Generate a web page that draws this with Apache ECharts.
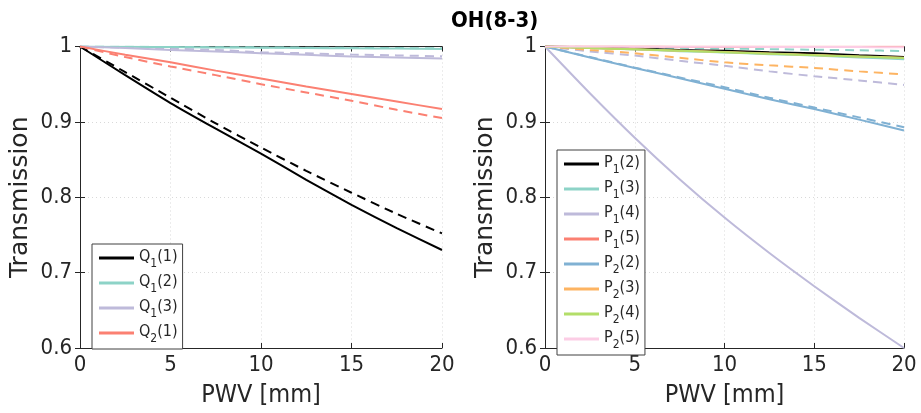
<!DOCTYPE html>
<html><head><meta charset="utf-8">
<script src="https://cdn.jsdelivr.net/npm/echarts@6/dist/echarts.min.js"></script>
<style>html,body{margin:0;padding:0;background:#fff}#c{width:921px;height:413px}</style>
</head><body><div id="c"></div>
<script>
// ---- data ----
const pwv = [0, 2.5, 5, 7.5, 10, 12.5, 15, 17.5, 20];
const xTicks = [0, 5, 10, 15, 20];
const yTicks = [0.6, 0.7, 0.8, 0.9, 1];

// left panel (Q branches): solid and dashed
const Q1_1 = [1, 0.962, 0.925, 0.891, 0.858, 0.823, 0.790, 0.759, 0.730];
const Q1_1d = [1, 0.966, 0.932, 0.898, 0.866, 0.835, 0.806, 0.778, 0.752];
const Q1_2 = [1, 0.9996, 0.9992, 0.9988, 0.9984, 0.998, 0.9976, 0.9972, 0.9968];
const Q1_2d = [1, 0.9997, 0.9994, 0.9991, 0.9988, 0.9985, 0.9982, 0.9979, 0.9976];
const Q1_3 = [1, 0.998, 0.9955, 0.9935, 0.991, 0.989, 0.9866, 0.9853, 0.984];
const Q1_3d = [1, 0.9984, 0.997, 0.9955, 0.9924, 0.991, 0.9894, 0.9882, 0.987];
const Q2_1 = [1, 0.989, 0.979, 0.968, 0.9575, 0.947, 0.937, 0.927, 0.917];
const Q2_1d = [1, 0.986, 0.9736, 0.962, 0.950, 0.939, 0.928, 0.916, 0.905];

// right panel (P branches)
const P1_2 = [1, 0.9985, 0.997, 0.9955, 0.9942, 0.9925, 0.991, 0.9885, 0.986];
const P1_3 = [1, 0.998, 0.996, 0.9938, 0.992, 0.9898, 0.988, 0.9855, 0.983];
const P1_3d = [1, 0.9994, 0.9988, 0.998, 0.9972, 0.9965, 0.9957, 0.995, 0.994];
const P1_4 = [1, 0.938, 0.879, 0.824, 0.773, 0.726, 0.682, 0.640, 0.600];
const P1_4d = [1, 0.9935, 0.988, 0.981, 0.9745, 0.967, 0.9605, 0.955, 0.949];
const P1_5 = [1, 0.9999, 0.9999, 0.9998, 0.9998, 0.9997, 0.9997, 0.9996, 0.9996];
const P2_2 = [1, 0.9855, 0.9715, 0.958, 0.944, 0.930, 0.917, 0.903, 0.8886];
const P2_2d = [1, 0.986, 0.972, 0.959, 0.946, 0.932, 0.919, 0.906, 0.893];
const P2_3 = [1, 0.998, 0.9963, 0.9945, 0.9926, 0.9907, 0.9888, 0.9868, 0.985];
const P2_3d = [1, 0.9955, 0.991, 0.985, 0.979, 0.975, 0.9715, 0.967, 0.963];
const P2_4 = [1, 0.998, 0.9962, 0.9943, 0.9924, 0.9905, 0.9885, 0.9866, 0.9846];
const P2_5 = [1, 0.9999, 0.9998, 0.9997, 0.9996, 0.9995, 0.9993, 0.9992, 0.999];

const colors = {black:'#000000', teal:'#8dd3c7', purple:'#bebada', red:'#fb8072',
  blue:'#80b1d3', orange:'#fdb462', green:'#b3de69', pink:'#fccde5'};

const FONT = 'DejaVu Sans Condensed';
const FONT_V = 'DejaVu Sans';
const TXT = '#262626';

function pts(arr){ return pwv.map((x,i)=>[x, arr[i]]); }
function ser(name, arr, color, grid, dashed){
  return {
    name: name, type: 'line', xAxisIndex: grid*2, yAxisIndex: grid*2,
    data: pts(arr), showSymbol: false, symbol: 'none', smooth: 0.2,
    lineStyle: {color: color, width: 2, type: dashed ? [9,6] : 'solid'},
    itemStyle: {color: color}, silent: true, animation: false,
    z: dashed ? 2 : 3
  };
}

function xAxes(grid){
  return [
    {gridIndex: grid, type:'value', min:0, max:20, interval:5, position:'bottom',
     name:'PWV [mm]', nameLocation:'middle', nameGap:35,
     nameTextStyle:{fontFamily:FONT, fontSize:25, color:TXT},
     axisLine:{show:true, lineStyle:{color:TXT, width:1}},
     axisTick:{show:true, inside:true, length:5, lineStyle:{color:TXT}},
     axisLabel:{fontFamily:FONT, fontSize:22, color:TXT, margin:6},
     splitLine:{show:true, lineStyle:{color:'#d9d9d9', type:[1,3], width:1}}},
    {gridIndex: grid, type:'value', min:0, max:20, interval:5, position:'top',
     axisLine:{show:true, lineStyle:{color:TXT, width:1}},
     axisTick:{show:true, inside:true, length:5, lineStyle:{color:TXT}},
     axisLabel:{show:false}, splitLine:{show:false}}
  ];
}
function yAxes(grid){
  return [
    {gridIndex: grid, type:'value', min:0.6, max:1, interval:0.1, position:'left',
     name:'Transmission', nameLocation:'middle', nameGap:47,
     nameTextStyle:{fontFamily:FONT_V, fontSize:25, color:TXT},
     axisLine:{show:true, lineStyle:{color:TXT, width:1}},
     axisTick:{show:true, inside:true, length:5, lineStyle:{color:TXT}},
     axisLabel:{fontFamily:FONT, fontSize:22, color:TXT, margin:8,
       formatter: v => (Math.abs(v-1)<1e-9 ? '1' : v.toFixed(1))},
     splitLine:{show:true, lineStyle:{color:'#d9d9d9', type:[1,3], width:1}}},
    {gridIndex: grid, type:'value', min:0.6, max:1, interval:0.1, position:'right',
     axisLine:{show:true, lineStyle:{color:TXT, width:1}},
     axisTick:{show:true, inside:true, length:5, lineStyle:{color:TXT}},
     axisLabel:{show:false}, splitLine:{show:false}}
  ];
}

function fmt(name){
  const m = name.match(/^([A-Z])(\d)(\(.*\))$/);
  return '{b|' + m[1] + '}{s|' + m[2] + '}{b|' + m[3] + '}';
}
const rich = {
  b:{fontFamily:FONT, fontSize:16, color:TXT, lineHeight:18, verticalAlign:'top'},
  s:{fontFamily:FONT, fontSize:12, color:TXT, lineHeight:18, padding:[9,0,0,0], verticalAlign:'top'}
};
function legend(names, left, top){
  return {
    data: names, orient:'vertical', left:left, top:top,
    backgroundColor:'#fff', borderColor:'#404040', borderWidth:1, borderRadius:0,
    padding:[5,5,4,7], itemGap:4, itemWidth:35, itemHeight:3, icon:'rect',
    selectedMode:false, formatter: fmt,
    textStyle:{fontFamily:FONT, fontSize:16, color:TXT, rich:rich}
  };
}

const leftNames = ['Q1(1)', 'Q1(2)', 'Q1(3)', 'Q2(1)'];
const rightNames = ['P1(2)', 'P1(3)', 'P1(4)', 'P1(5)', 'P2(2)', 'P2(3)', 'P2(4)', 'P2(5)'];

const series = [
  ser('Q1(1) d', Q1_1d, colors.black, 0, true),
  ser('Q1(2) d', Q1_2d, colors.teal, 0, true),
  ser('Q1(3) d', Q1_3d, colors.purple, 0, true),
  ser('Q2(1) d', Q2_1d, colors.red, 0, true),
  ser(leftNames[0], Q1_1, colors.black, 0, false),
  ser(leftNames[1], Q1_2, colors.teal, 0, false),
  ser(leftNames[2], Q1_3, colors.purple, 0, false),
  ser(leftNames[3], Q2_1, colors.red, 0, false),

  ser('P1(3) d', P1_3d, colors.teal, 1, true),
  ser('P1(4) d', P1_4d, colors.purple, 1, true),
  ser('P2(2) d', P2_2d, colors.blue, 1, true),
  ser('P2(3) d', P2_3d, colors.orange, 1, true),
  ser(rightNames[0], P1_2, colors.black, 1, false),
  ser(rightNames[1], P1_3, colors.teal, 1, false),
  ser(rightNames[2], P1_4, colors.purple, 1, false),
  ser(rightNames[3], P1_5, colors.red, 1, false),
  ser(rightNames[4], P2_2, colors.blue, 1, false),
  ser(rightNames[5], P2_3, colors.orange, 1, false),
  ser(rightNames[6], P2_4, colors.green, 1, false),
  ser(rightNames[7], P2_5, colors.pink, 1, false)
];

const chart = echarts.init(document.getElementById('c'), null, {renderer:'canvas'});
chart.setOption({
  animation:false,
  backgroundColor:'#fff',
  title:{text:'OH(8-3)', left:446, top:5,
    textStyle:{fontFamily:FONT, fontSize:22, fontWeight:'bold', color:'#000'}},
  grid:[
    {left:80, right:479, top:46.5, bottom:61},
    {left:545, right:17, top:46.5, bottom:61}
  ],
  xAxis:[...xAxes(0), ...xAxes(1)],
  yAxis:[...yAxes(0), ...yAxes(1)],
  legend:[legend(leftNames, 92, 244), legend(rightNames, 557, 150)],
  series: series
});
</script></body></html>
